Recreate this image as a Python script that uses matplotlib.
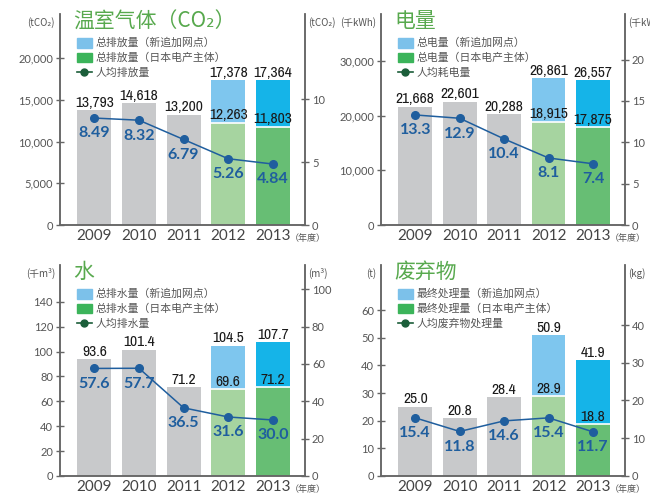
import matplotlib
matplotlib.use("Agg")
import matplotlib.pyplot as plt
from matplotlib.patches import Rectangle
from matplotlib import font_manager

years = ["2009", "2010", "2011", "2012", "2013"]

co2_total = [13793, 14618, 13200, 17378, 17364]
co2_main = [13793, 14618, 13200, 12263, 11803]
co2_per = [8.49, 8.32, 6.79, 5.26, 4.84]

power_total = [21668, 22601, 20288, 26861, 26557]
power_main = [21668, 22601, 20288, 18915, 17875]
power_per = [13.3, 12.9, 10.4, 8.1, 7.4]

water_total = [93.6, 101.4, 71.2, 104.5, 107.7]
water_main = [93.6, 101.4, 71.2, 69.6, 71.2]
water_per = [57.6, 57.7, 36.5, 31.6, 30.0]

waste_total = [25.0, 20.8, 28.4, 50.9, 41.9]
waste_main = [25.0, 20.8, 28.4, 28.9, 18.8]
waste_per = [15.4, 11.8, 14.6, 15.4, 11.7]

CJK = ["Noto Sans CJK SC", "DejaVu Sans"]
NUM = ["Lato", "DejaVu Sans"]


# narrow face for the bar values: Liberation Sans Narrow if present, else any condensed one
def find_narrow():
    regular = [f for f in font_manager.fontManager.ttflist
               if f.style == "normal" and f.weight in (400, "normal", "regular")]
    for f in regular:
        if "Narrow" in f.name:
            return f.fname, 11.2
    for f in regular:
        if "Condensed" in f.name or f.stretch in ("condensed", "semi-condensed"):
            return f.fname, 9.5
    return None, 9.5


narrow_file, narrow_size = find_narrow()
if narrow_file:
    BAR_FONT = dict(fontproperties=font_manager.FontProperties(fname=narrow_file, size=narrow_size))
else:
    BAR_FONT = dict(family=["Roboto", "DejaVu Sans"], fontsize=9.5)

GRAY = "#c8c9cb"
MAIN_COLORS = [GRAY, GRAY, GRAY, "#a6d4a0", "#67be74"]
NEW_COLORS = [None, None, None, "#7ec6ee", "#15b4e8"]
LINE = "#1f5e9e"
SPINE = "#666666"
TXT = "#555555"


def draw_panel(rect, total, main, per, fmt_bar, fmt_line, title, unit_l, unit_r,
               ylim_l, yt_l, ylim_r, yt_r, legend_labels):
    ax = fig.add_axes(rect)
    ax2 = ax.twinx()
    x = list(range(len(years)))
    w = 0.76
    ax.bar(x, main, w, color=MAIN_COLORS, zorder=1)
    ax.bar(x[3:], [t - m for t, m in zip(total[3:], main[3:])], w,
           bottom=main[3:], color=NEW_COLORS[3:], zorder=1)
    ax.hlines(main[3:], [i - w / 2 for i in x[3:]], [i + w / 2 for i in x[3:]],
              color="white", lw=1.2, zorder=2)

    for i in x:
        ax.annotate(fmt_bar(total[i]), (i, total[i]), xytext=(0, 0.3),
                    textcoords="offset points", ha="center", va="bottom",
                    color="#1a1a1a", **BAR_FONT)
        if i >= 3:
            ax.annotate(fmt_bar(main[i]), (i, main[i]), xytext=(0, 0.3),
                        textcoords="offset points", ha="center", va="bottom",
                        color="#1a1a1a", **BAR_FONT)

    ax2.plot(x, per, color=LINE, lw=1.1, marker="o", ms=5.5, zorder=3)
    for i in x:
        ax2.annotate(fmt_line(per[i]), (i, per[i]), xytext=(0, -6),
                     textcoords="offset points", ha="center", va="top",
                     fontsize=11.5, color=LINE, family=NUM, fontweight="bold")

    ax.set_xlim(-0.77, 4.72)
    ax.set_ylim(*ylim_l)
    ax2.set_ylim(*ylim_r)
    ax.set_yticks(yt_l)
    ax.set_yticklabels([f"{v:,}" for v in yt_l], family=NUM, fontsize=8, color=TXT)
    ax2.set_yticks(yt_r)
    ax2.set_yticklabels([f"{v}" for v in yt_r], family=NUM, fontsize=8, color=TXT)
    ax.set_xticks(x)
    ax.set_xticklabels(years, family=NUM, fontsize=11, color="#444444")

    for a in (ax, ax2):
        a.spines["top"].set_visible(False)
        for s in ("left", "right", "bottom"):
            a.spines[s].set_color(SPINE)
            a.spines[s].set_linewidth(1.1)
        a.tick_params(axis="y", direction="inout", length=6, width=1,
                      color=SPINE, pad=2)
    ax.tick_params(axis="x", length=0, pad=3)

    ax.text(0.055, 0.965, title, transform=ax.transAxes, family=CJK,
            fontsize=15, color="#58a94e", ha="left", va="center")
    ax.text(-0.02, 0.96, unit_l, transform=ax.transAxes, family=CJK,
            fontsize=7, color=TXT, ha="right", va="center")
    ax.text(1.012, 0.96, unit_r, transform=ax.transAxes, family=CJK,
            fontsize=7, color=TXT, ha="left", va="center")
    ax.text(1.01, -0.062, "（年度）", transform=ax.transAxes, family=CJK,
            fontsize=6.5, color=TXT, ha="center", va="center")

    # legend
    x0, bw, bh = 0.069, 0.062, 0.045
    for k, col in enumerate(["#7cc1ea", "#3bb45a"]):
        y = 0.863 - k * 0.07
        ax.add_patch(Rectangle((x0, y - bh / 2), bw, bh, transform=ax.transAxes,
                               color=col, clip_on=False, zorder=4))
    y = 0.863 - 2 * 0.07
    ax.plot([x0, x0 + bw], [y, y], transform=ax.transAxes, color="#1b5e3a",
            lw=1.2, clip_on=False, zorder=4)
    ax.plot([x0 + bw / 2], [y], transform=ax.transAxes, color="#1b5e3a",
            marker="o", ms=5, clip_on=False, zorder=4)
    for k, lab in enumerate(legend_labels):
        ax.text(0.145, 0.863 - k * 0.07, lab, transform=ax.transAxes, family=CJK,
                fontsize=7.8, color=TXT, ha="left", va="center")


fig = plt.figure(figsize=(6.5, 4.93), dpi=100)

comma = lambda v: f"{v:,}"
one = lambda v: f"{v:.1f}"
two = lambda v: f"{v:.2f}"

draw_panel([0.0923, 0.5436, 0.3769, 0.428], co2_total, co2_main, co2_per, comma, two,
           "温室气体（CO₂）", "(tCO₂)", "(tCO₂)",
           (0, 25300), [0, 5000, 10000, 15000, 20000], (0, 16.75), [0, 5, 10],
           ["总排放量（新追加网点）", "总排放量（日本电产主体）", "人均排放量"])
draw_panel([0.5862, 0.5436, 0.3754, 0.428], power_total, power_main, power_per, comma, one,
           "电量", "(千kWh)", "(千kWh)",
           (0, 38650), [0, 10000, 20000, 30000], (0, 25.5), [0, 5, 10, 15, 20],
           ["总电量（新追加网点）", "总电量（日本电产主体）", "人均耗电量"])
draw_panel([0.0923, 0.0345, 0.3769, 0.428], water_total, water_main, water_per, one, one,
           "水", "(千m³)", "(m³)",
           (0, 169.5), [0, 20, 40, 60, 80, 100, 120, 140], (0, 113), [0, 20, 40, 60, 80, 100],
           ["总排水量（新追加网点）", "总排水量（日本电产主体）", "人均排水量"])
draw_panel([0.5862, 0.0345, 0.3754, 0.428], waste_total, waste_main, waste_per, one, one,
           "废弃物", "(t)", "(kg)",
           (0, 76.3), [0, 10, 20, 30, 40, 50, 60], (0, 55.9), [0, 10, 20, 30, 40],
           ["最终处理量（新追加网点）", "最终处理量（日本电产主体）", "人均废弃物处理量"])

fig.savefig("out.png", dpi=100)
